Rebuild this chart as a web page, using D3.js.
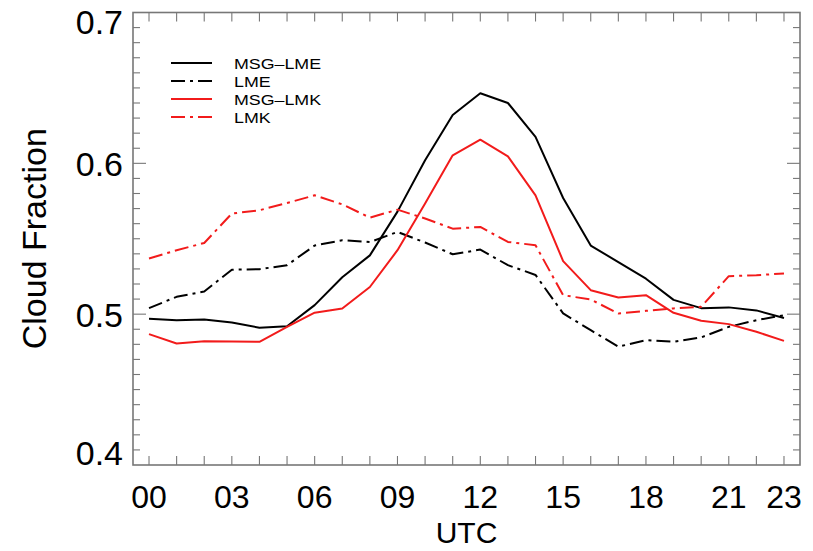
<!DOCTYPE html>
<html>
<head>
<meta charset="utf-8">
<script src="https://cdn.jsdelivr.net/npm/d3@7"></script>
<style>
  body { margin: 0; background: #fff; }
  text { font-family: "Liberation Sans", Arial, Helvetica, sans-serif; fill: #000; }
</style>
</head>
<body>
<svg id="chart" width="813" height="551"></svg>
<script>
// hours 00..23 UTC
const hours = d3.range(0, 24);
const hourLabels = ['00', '03', '06', '09', '12', '15', '18', '21', '23'];
const yLabels = [0.4, 0.5, 0.6, 0.7];

// cloud fraction per hour
const msgLme = [0.497, 0.496, 0.4965, 0.4945, 0.491, 0.492, 0.506, 0.5245, 0.539, 0.568, 0.602, 0.632,
                0.6465, 0.640, 0.6175, 0.577, 0.5455, 0.5345, 0.5235, 0.5095, 0.504, 0.5045, 0.5025, 0.4975];
const lme    = [0.504, 0.5115, 0.515, 0.5295, 0.5298, 0.5325, 0.5455, 0.549, 0.5478, 0.5545, 0.5475, 0.5397,
                0.5428, 0.5325, 0.526, 0.5005, 0.4894, 0.4784, 0.4828, 0.4817, 0.4846, 0.4916, 0.496, 0.4993];
const msgLmk = [0.4868, 0.4806, 0.4821, 0.4819, 0.4817, 0.4916, 0.501, 0.5038, 0.518, 0.5424, 0.5733, 0.6053,
                0.6157, 0.6046, 0.5788, 0.5352, 0.5159, 0.511, 0.5126, 0.5009, 0.4956, 0.4934, 0.4883, 0.4823];
const lmk    = [0.5369, 0.5424, 0.5472, 0.5667, 0.5689, 0.5737, 0.5788, 0.5728, 0.564, 0.5693, 0.5634, 0.5567,
                0.5578, 0.5479, 0.5457, 0.5126, 0.5097, 0.5005, 0.5022, 0.5038, 0.5049, 0.5252, 0.5258, 0.527];

const seriesNames = ['MSG–LME', 'LME', 'MSG–LMK', 'LMK'];

const series = [
  { name: seriesNames[0], values: msgLme, color: '#000', dash: null },
  { name: seriesNames[1], values: lme,    color: '#000', dash: '14,5,3,5' },
  { name: seriesNames[2], values: msgLmk, color: '#f21b1b', dash: null },
  { name: seriesNames[3], values: lmk,    color: '#f21b1b', dash: '14,5,3,5' }
];

const svg = d3.select('#chart');
const frame = { left: 133, right: 800, top: 12.5, bottom: 465 };

const x = d3.scaleLinear().domain([-0.58, 23.58]).range([frame.left, frame.right]);
const y = d3.scaleLinear().domain([0.4, 0.7]).range([frame.bottom, frame.top]);

const axisColor = '#777';

// frame box
svg.append('rect')
  .attr('x', frame.left).attr('y', frame.top)
  .attr('width', frame.right - frame.left).attr('height', frame.bottom - frame.top)
  .attr('fill', 'none').attr('stroke', axisColor).attr('stroke-width', 1.6);

// hour ticks on bottom and top, pointing in
const g = svg.append('g').attr('stroke', axisColor).attr('stroke-width', 1.1);
hours.forEach(h => {
  g.append('line').attr('x1', x(h)).attr('x2', x(h)).attr('y1', frame.bottom).attr('y2', frame.bottom - 9);
  g.append('line').attr('x1', x(h)).attr('x2', x(h)).attr('y1', frame.top).attr('y2', frame.top + 9);
});

// y ticks every 0.01, longer every 0.1, left and right
d3.range(41, 70).forEach(i => {
  const v = i / 100;
  const len = i % 10 === 0 ? 13 : 7;
  g.append('line').attr('x1', frame.left).attr('x2', frame.left + len).attr('y1', y(v)).attr('y2', y(v));
  g.append('line').attr('x1', frame.right).attr('x2', frame.right - len).attr('y1', y(v)).attr('y2', y(v));
});

// tick labels
svg.selectAll('.xlab')
  .data(hourLabels)
  .join('text')
  .attr('x', d => x(+d))
  .attr('y', 507.5)
  .attr('text-anchor', 'middle')
  .attr('font-size', 32)
  .text(d => d);

svg.selectAll('.ylab')
  .data(yLabels)
  .join('text')
  .attr('x', 123)
  .attr('y', d => Math.max(34, Math.min(frame.bottom, y(d) + 12.5)))
  .attr('text-anchor', 'end')
  .attr('font-size', 34)
  .text(d => d.toFixed(1));

// axis titles
svg.append('text')
  .attr('x', (frame.left + frame.right) / 2)
  .attr('y', 543)
  .attr('text-anchor', 'middle')
  .attr('font-size', 30)
  .text('UTC');

svg.append('text')
  .attr('transform', `translate(46, ${(frame.top + frame.bottom) / 2}) rotate(-90)`)
  .attr('text-anchor', 'middle')
  .attr('font-size', 34)
  .text('Cloud Fraction');

// lines
const line = d3.line()
  .x((d, i) => x(hours[i]))
  .y(d => y(d));

svg.append('g')
  .selectAll('path')
  .data(series)
  .join('path')
  .attr('d', d => line(d.values))
  .attr('fill', 'none')
  .attr('stroke', d => d.color)
  .attr('stroke-width', 2)
  .attr('stroke-dasharray', d => d.dash)
  .attr('stroke-linejoin', 'round');

// legend
const legend = svg.append('g').attr('transform', 'translate(171, 63)');
const rows = legend.selectAll('g')
  .data(series)
  .join('g')
  .attr('transform', (d, i) => `translate(0, ${i * 18})`);

rows.append('line')
  .attr('x1', 0).attr('x2', 41)
  .attr('stroke', d => d.color)
  .attr('stroke-width', 2)
  .attr('stroke-dasharray', d => d.dash);

// text stretched a little so it keeps the reference width at a smaller size
rows.append('text')
  .attr('transform', 'translate(63, 5.5) scale(1.15, 1)')
  .attr('font-size', 15.5)
  .text(d => d.name);
</script>
</body>
</html>
